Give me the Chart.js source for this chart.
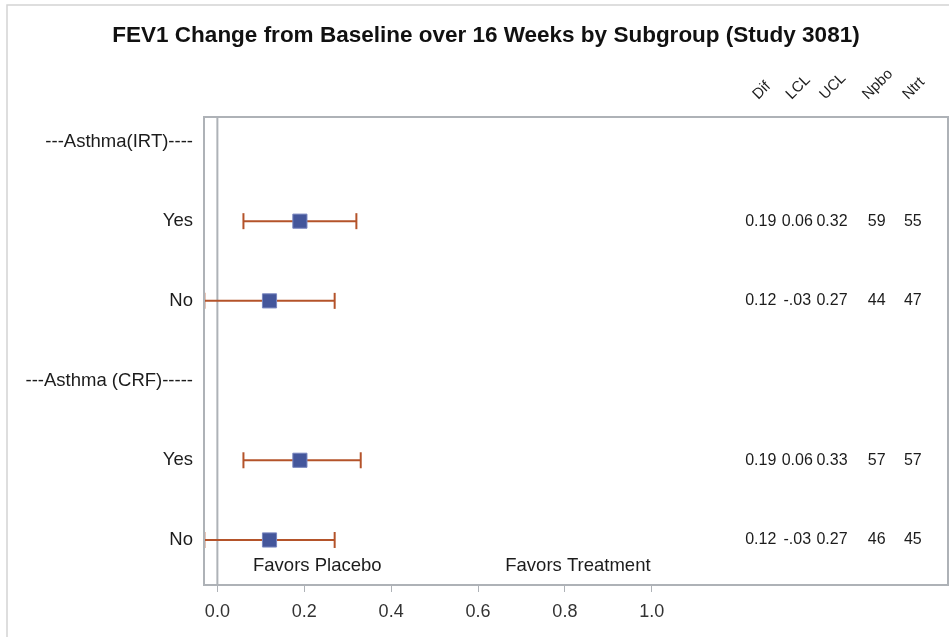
<!DOCTYPE html>
<html>
<head>
<meta charset="utf-8">
<title>FEV1 Change from Baseline by Subgroup</title>
<script src="https://cdn.jsdelivr.net/npm/chart.js@4.4.1/dist/chart.umd.min.js"></script>
<style>
  html, body { margin: 0; padding: 0; background: #fff; }
  #wrap { position: relative; width: 949px; height: 637px; }
</style>
</head>
<body>
<div id="wrap"><canvas id="forestCanvas" width="949" height="637"></canvas></div>
<script>
(function () {
  "use strict";

  const TITLE = "FEV1 Change from Baseline over 16 Weeks by Subgroup (Study 3081)";

  // one entry per row, top to bottom
  const rowLabels = ["---Asthma(IRT)----", "Yes", "No", "---Asthma (CRF)-----", "Yes", "No"];
  const dif = [null, 0.19, 0.12, null, 0.19, 0.12];
  const lcl = [null, 0.06, -0.03, null, 0.06, -0.03];
  const ucl = [null, 0.32, 0.27, null, 0.33, 0.27];
  const nPbo = [null, 59, 44, null, 57, 46];
  const nTrt = [null, 55, 47, null, 57, 45];

  const tableHeaders = ["Dif", "LCL", "UCL", "Npbo", "Ntrt"];
  const xTicks = [0.0, 0.2, 0.4, 0.6, 0.8, 1.0];
  const favorLabels = ["Favors Placebo", "Favors Treatment"];
  const favorAt = [0.23, 0.83];

  // layout (data units of the axes)
  const X_MIN = -0.0308;
  const X_MAX = 1.682;
  const Y_MIN = -0.307;
  const Y_MAX = 5.565;
  const COL_AT = [1.251, 1.335, 1.415, 1.518, 1.601];
  const FAVOR_ROW = 5.32;

  const FONT = "'Liberation Sans', Arial, sans-serif";
  const TEXT = "#1c1c1c";
  const FRAME = "#aeb2b7";
  const MARKER = "#44569b";
  const BAR = "#b4532a";

  function fmtStat(v) {
    if (v == null) return "";
    const s = v.toFixed(2);
    return s.startsWith("-0.") ? "-" + s.slice(2) : s;
  }

  function fmtN(v) {
    return v == null ? "" : String(v);
  }

  const tableCols = [
    dif.map(fmtStat),
    lcl.map(fmtStat),
    ucl.map(fmtStat),
    nPbo.map(fmtN),
    nTrt.map(fmtN)
  ];

  const markerData = [];
  const barSets = [];
  rowLabels.forEach((_, i) => {
    if (dif[i] == null) return;
    markerData.push({ x: dif[i], y: i });
    barSets.push({
      label: "CI " + i,
      data: [{ x: lcl[i], y: i }, { x: ucl[i], y: i }],
      showLine: true,
      borderColor: BAR,
      borderWidth: 2,
      pointStyle: "line",
      pointRotation: 90,
      pointRadius: 8,
      pointBorderColor: BAR,
      pointBorderWidth: 2,
      order: 1
    });
  });

  const decor = {
    id: "forestDecor",
    beforeDraw(chart) {
      const ctx = chart.ctx;
      ctx.save();
      ctx.fillStyle = "#fff";
      ctx.fillRect(0, 0, chart.width, chart.height);
      ctx.strokeStyle = "#d4d4d4";
      ctx.lineWidth = 1.5;
      ctx.beginPath();
      ctx.moveTo(7, chart.height);
      ctx.lineTo(7, 5);
      ctx.lineTo(chart.width, 5);
      ctx.stroke();
      ctx.restore();
    },
    beforeDatasetsDraw(chart) {
      const ctx = chart.ctx;
      const area = chart.chartArea;
      const x0 = chart.scales.x.getPixelForValue(0);
      ctx.save();
      ctx.strokeStyle = FRAME;
      ctx.lineWidth = 2;
      ctx.beginPath();
      ctx.moveTo(x0, area.top);
      ctx.lineTo(x0, area.bottom);
      ctx.stroke();
      ctx.restore();
    },
    afterDatasetsDraw(chart) {
      const ctx = chart.ctx;
      const area = chart.chartArea;
      const xs = chart.scales.x;
      const ys = chart.scales.y;
      ctx.save();

      ctx.strokeStyle = FRAME;
      ctx.lineWidth = 2;
      ctx.strokeRect(area.left, area.top, area.right - area.left, area.bottom - area.top);

      ctx.fillStyle = TEXT;
      ctx.textBaseline = "middle";
      ctx.textAlign = "center";
      ctx.font = "18.5px " + FONT;
      favorLabels.forEach((t, k) => {
        ctx.fillText(t, xs.getPixelForValue(favorAt[k]), ys.getPixelForValue(FAVOR_ROW));
      });

      ctx.font = "16px " + FONT;
      tableCols.forEach((col, c) => {
        const px = xs.getPixelForValue(COL_AT[c]);
        col.forEach((t, i) => {
          if (t) ctx.fillText(t, px, ys.getPixelForValue(i));
        });
      });

      // rotated column headers
      ctx.font = "15px " + FONT;
      ctx.textAlign = "left";
      ctx.textBaseline = "alphabetic";
      tableHeaders.forEach((t, c) => {
        const px = xs.getPixelForValue(COL_AT[c]);
        const w = ctx.measureText(t).width;
        const ax = px - 0.354 * w + 0.354 * 11;
        ctx.save();
        ctx.translate(ax, area.top - 17);
        ctx.rotate(-Math.PI / 4);
        ctx.fillText(t, 0, 0);
        ctx.restore();
      });

      ctx.textAlign = "center";
      ctx.fillStyle = "#111";
      ctx.font = "bold 22.5px " + FONT;
      ctx.fillText(TITLE, 486, 42);
      ctx.restore();
    }
  };

  new Chart(document.getElementById("forestCanvas"), {
    type: "scatter",
    data: {
      datasets: [
        {
          label: "Dif",
          data: markerData,
          pointStyle: "rect",
          pointRadius: 10,
          pointHoverRadius: 10,
          backgroundColor: MARKER,
          borderColor: "#7986c0",
          borderWidth: 1,
          order: 0
        },
        ...barSets
      ]
    },
    options: {
      responsive: false,
      animation: false,
      devicePixelRatio: 1,
      layout: {
        autoPadding: false,
        padding: { top: 117, left: 0, right: 1, bottom: 0 }
      },
      plugins: {
        legend: { display: false },
        tooltip: { enabled: false },
        title: { display: false }
      },
      scales: {
        x: {
          type: "linear",
          min: X_MIN,
          max: X_MAX,
          afterBuildTicks: function (scale) {
            scale.ticks = xTicks.map(v => ({ value: v }));
          },
          afterFit: function (scale) {
            scale.height = 52;
          },
          ticks: {
            callback: v => Number(v).toFixed(1),
            autoSkip: false,
            maxRotation: 0,
            padding: 9,
            color: "#333",
            font: { family: FONT, size: 18 }
          },
          grid: {
            drawOnChartArea: false,
            drawTicks: true,
            tickLength: 7,
            color: FRAME,
            lineWidth: 1
          },
          border: { display: false }
        },
        y: {
          type: "linear",
          reverse: true,
          min: Y_MIN,
          max: Y_MAX,
          afterBuildTicks: function (scale) {
            scale.ticks = rowLabels.map((_, i) => ({ value: i }));
          },
          afterFit: function (scale) {
            scale.width = 204;
          },
          ticks: {
            callback: v => rowLabels[v],
            autoSkip: false,
            padding: 11,
            color: TEXT,
            font: { family: FONT, size: 18.5 }
          },
          grid: { display: false, drawTicks: false },
          border: { display: false }
        }
      }
    },
    plugins: [decor]
  });
})();
</script>
</body>
</html>
